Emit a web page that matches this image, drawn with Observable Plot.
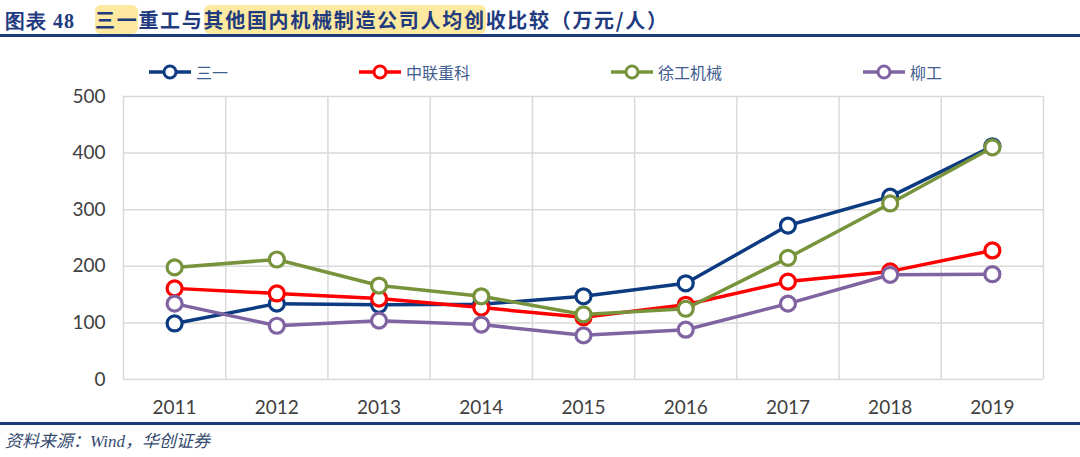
<!DOCTYPE html>
<html><head><meta charset="utf-8">
<script src="https://cdn.jsdelivr.net/npm/d3@7"></script>
<script src="https://cdn.jsdelivr.net/npm/@observablehq/plot@0.6"></script>
<style>
body{margin:0;background:#fff;}
#wrap{position:relative;width:1080px;height:457px;overflow:hidden;font-family:"Noto Sans CJK SC",sans-serif;}
#title{position:absolute;left:5px;top:5px;font-size:20px;font-weight:bold;color:#1f3a7e;white-space:nowrap;letter-spacing:1.7px;}
#title .num{font-family:"Liberation Serif",serif;margin-right:20px;letter-spacing:1px;}
#title .hl{background:#fde9a0;border-radius:6px;}
.bar{position:absolute;left:0;width:1080px;height:3px;background:#1b3a7a;}
#chart{position:absolute;left:0;top:40px;}
#legend{position:absolute;top:60px;left:0;width:1080px;height:24px;}
.li{position:absolute;display:flex;align-items:center;font-size:16px;color:#3f5d8f;}
.li svg{margin-right:4px;}
#src{position:absolute;left:5px;top:427px;font-size:17px;font-style:italic;color:#34496e;font-family:"Noto Sans CJK SC",serif;}
</style></head>
<body>
<div id="wrap">
  <div id="title"><span class="num">图表 48</span><span class="hl">三一</span>重工与<span class="hl">其他国内机械制造公司人均创</span>收比较（万元/人）</div>
  <div class="bar" style="top:34px"></div>
  <div id="chart"></div>
  <div id="legend"></div>
  <div class="bar" style="top:422px"></div>
  <div id="src">资料来源：<span style="font-family:'Liberation Serif',serif">Wind</span>，华创证券</div>
</div>
<script>
const years = [2011, 2012, 2013, 2014, 2015, 2016, 2017, 2018, 2019];
const seriesNames = ["三一", "中联重科", "徐工机械", "柳工"];
const sany      = [99, 134, 132, 133, 147, 170, 272, 323, 412];
const zoomlion  = [161, 152, 143, 127, 110, 132, 173, 191, 228];
const xcmg      = [198, 212, 166, 147, 115, 125, 215, 311, 410];
const liugong   = [134, 95, 104, 97, 78, 88, 134, 185, 186];
const seriesColors = ["#0d3b82", "#ff0000", "#77933c", "#8064a2"];
const yTicks = [0, 100, 200, 300, 400, 500];

const allValues = [sany, zoomlion, xcmg, liugong];
const data = [];
seriesNames.forEach((s, i) => years.forEach((yr, j) => data.push({series: s, year: yr, value: allValues[i][j]})));
const xEdges = years.map(y => y - 0.5).concat([years[years.length - 1] + 0.5]);

const marks = [
  Plot.ruleY(yTicks, {stroke: "#d9d9d9", strokeWidth: 1.5}),
  Plot.ruleX(xEdges, {stroke: "#d9d9d9", strokeWidth: 1.5}),
  Plot.axisY({ticks: yTicks, tickSize: 0, tickPadding: 18, tickFormat: d => d, fontSize: 19, fill: "#404040", label: null}),
  Plot.axisX({ticks: years, tickSize: 0, tickPadding: 21, tickFormat: d => String(d), fontSize: 19, fill: "#404040", label: null})
];
seriesNames.forEach((s, i) => {
  const d = data.filter(r => r.series === s);
  marks.push(Plot.line(d, {x: "year", y: "value", stroke: seriesColors[i], strokeWidth: 3.5}));
  marks.push(Plot.dot(d, {x: "year", y: "value", r: 7.5, fill: "#fff", stroke: seriesColors[i], strokeWidth: 3.2}));
});

const chart = Plot.plot({
  width: 1080,
  height: 382,
  marginTop: 56,
  marginBottom: 43,
  marginLeft: 123,
  marginRight: 37,
  style: {fontFamily: "Lato, sans-serif", fontSize: "19px", background: "transparent", overflow: "visible"},
  x: {domain: [xEdges[0], xEdges[xEdges.length - 1]], axis: null, label: null},
  y: {domain: [0, 500], axis: null, label: null},
  marks
});
document.getElementById("chart").appendChild(chart);

const legendX = [148, 358, 610, 862];
const leg = document.getElementById("legend");
seriesNames.forEach((s, i) => {
  const el = document.createElement("div");
  el.className = "li";
  el.style.left = legendX[i] + "px";
  el.innerHTML = `<svg width="44" height="20"><line x1="1" y1="10" x2="43" y2="10" stroke="${seriesColors[i]}" stroke-width="3.5"/><circle cx="22" cy="10" r="6" fill="#fff" stroke="${seriesColors[i]}" stroke-width="3"/></svg><span>${s}</span>`;
  leg.appendChild(el);
});
</script>
</body></html>
